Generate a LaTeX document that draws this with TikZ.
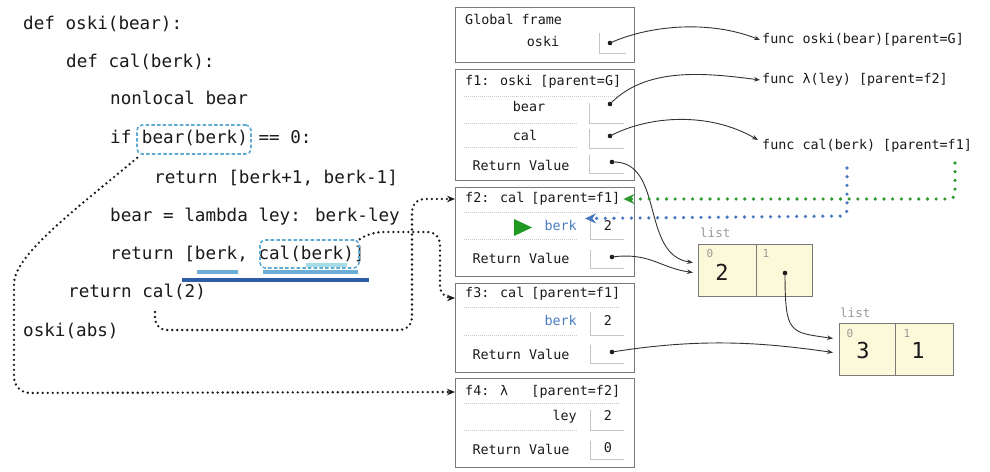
\documentclass[tikz,border=0pt]{standalone}
\usepackage{fontspec}
\newfontfamily\dvmono{DejaVu Sans Mono}
\usetikzlibrary{arrows.meta,calc}
\newcommand{\codefont}{\dvmono\fontsize{17.6pt}{20pt}\selectfont}
\newcommand{\frfont}{\dvmono\fontsize{13.4pt}{16pt}\selectfont}
\newcommand{\bigvfont}{\dvmono\fontsize{22pt}{24pt}\selectfont}
\newcommand{\idxfont}{\dvmono\fontsize{11pt}{13pt}\selectfont}
\newcommand{\lblfont}{\dvmono\fontsize{12.5pt}{15pt}\selectfont}
\definecolor{framegray}{HTML}{7A7A7A}
\definecolor{valgray}{HTML}{C4C4C4}
\definecolor{divgray}{HTML}{CCCCCC}
\definecolor{hlblue}{HTML}{5FAAD3}
\definecolor{ulblue}{HTML}{6AAED6}
\definecolor{ulcyan}{HTML}{A6DCE8}
\definecolor{darkblue}{HTML}{2E5DA6}
\definecolor{varblue}{HTML}{4A7CC0}
\definecolor{ptrgreen}{HTML}{2E9A2E}
\definecolor{ptrblue}{HTML}{4A78C0}
\definecolor{listfill}{HTML}{FCF8DA}
\definecolor{listgray}{HTML}{9A9A9A}
\definecolor{trigreen}{HTML}{1E9A22}
\definecolor{inkc}{HTML}{1A1A1A}
\begin{document}
\begin{tikzpicture}[x=1pt,y=-1pt,
  code/.style={font=\codefont, anchor=west, inner sep=0pt, text height=12.5pt, text depth=3.5pt, text=inkc},
  ftxt/.style={font=\frfont, inner sep=0pt, text height=9.8pt, text depth=2.8pt, text=inkc},
  vartxt/.style={ftxt, anchor=east, text=varblue},
  framebox/.style={draw=framegray, line width=1.4pt, anchor=north west, inner sep=0pt},
  divline/.style={draw=divgray, line width=0.7pt, dash pattern=on 1pt off 1pt},
  valline/.style={draw=valgray, line width=1pt},
  ptdot/.style={circle, fill=inkc, inner sep=0pt, minimum size=4.6pt},
  ptr/.style={line width=0.9pt, draw=black!80, -{Stealth[length=6pt,width=4.5pt]}},
  blkdot/.style={line width=2.6pt, draw=inkc, dash pattern=on 0pt off 5pt, line cap=round, -{Stealth[length=8pt,width=6.5pt]}},
  grdot/.style={line width=3.6pt, draw=ptrgreen, dash pattern=on 0pt off 8.7pt, line cap=round, -{Stealth[length=11pt,width=10pt]}},
  bldot/.style={line width=3.6pt, draw=ptrblue, dash pattern=on 0pt off 8.7pt, line cap=round, -{Stealth[length=11pt,width=10pt]}},
  hlbox/.style={draw=hlblue, line width=1.6pt, dash pattern=on 3.5pt off 2.2pt, rounded corners=5pt, inner sep=0pt},
  listcell/.style={draw=framegray, fill=listfill, line width=1pt, anchor=north west, inner sep=0pt, minimum height=52pt},
  idx/.style={font=\idxfont, text=listgray, inner sep=0pt},
  bigv/.style={font=\bigvfont, text=inkc, inner sep=0pt},
  lbl/.style={font=\lblfont, text=listgray, anchor=west, inner sep=0pt},
  underl/.style={line width=4pt}
]
\useasboundingbox (0,0) rectangle (990,471);

% ---------------- code ----------------
\node[code] (c1) at (23,25) {def oski(bear):};
\node[code] (c2) at (66,63) {def cal(berk):};
\node[code] (c3) at (110,100) {nonlocal bear};
\node[code] (c4) at (110,139) {if bear(berk) == 0:};
\node[code] (c5) at (154,179) {return [berk+1, berk-1]};
\node[code] (c6) at (110,217) {bear = lambda ley: berk-ley};
\node[code] (c7) at (110,255) {return [berk, cal(berk)]};
\node[code] (c8) at (68,293) {return cal(2)};
\node[code] (c9) at (23,332) {oski(abs)};

% highlights
\node[hlbox, minimum width=114pt, minimum height=29pt] (hl1) at (194,139.5) {};
\node[hlbox, minimum width=99pt, minimum height=28pt] (hl2) at (309.5,254) {};
\draw[underl, draw=ulcyan] (306,265) -- (347,265);
\draw[underl, draw=ulblue] (197,272) -- (238,272);
\draw[underl, draw=ulblue] (263,272) -- (358,272);
\draw[underl, draw=darkblue] (182,279.5) -- (369,279.5);

% ---------------- frames ----------------
\node[framebox, minimum width=179pt, minimum height=55pt] (gf) at (455,7) {};
\node[framebox, minimum width=179pt, minimum height=111pt] (f1) at (455,69) {};
\node[framebox, minimum width=179pt, minimum height=89pt] (f2) at (455,187) {};
\node[framebox, minimum width=179pt, minimum height=89pt] (f3) at (455,283) {};
\node[framebox, minimum width=179pt, minimum height=89pt] (f4) at (455,378) {};

% global frame
\node[ftxt, anchor=west] (gft) at (465,21) {Global frame};
\node[ftxt] (gfoski) at (543,43) {oski};
\draw[valline] (599,33) |- (626,53);
\node[ptdot] (dg) at (610,43) {};

% f1
\node[ftxt, anchor=west] (f1t) at (465,82) {f1: oski [parent=G]};
\draw[divline] (464,96) -- (620,96);
\node[ftxt] (f1bear) at (529,108) {bear};
\draw[valline] (589,103) |- (624,123);
\node[ptdot] (d1b) at (610,104) {};
\draw[divline] (464,123) -- (578,123);
\node[ftxt] (f1cal) at (525,137) {cal};
\draw[valline] (589,129) |- (624,148);
\node[ptdot] (d1c) at (610,136) {};
\draw[divline] (464,147) -- (578,147);
\node[ftxt] (f1rv) at (521,167) {Return Value};
\draw[valline] (589,155) |- (624,173);
\node[ptdot] (d1r) at (612,162) {};

% f2
\node[ftxt, anchor=west] (f2t) at (465,199) {\makebox[155pt]{f2: cal\hfill[parent=f1]}};
\draw[divline] (464,212) -- (620,212);
\fill[trigreen] (514,219) -- (514,236) -- (532,227.5) -- cycle;
\node[vartxt] (f2berk) at (577,227) {berk};
\draw[valline] (590,217) |- (624,239);
\node[ftxt] (f2bv) at (608,227) {2};
\draw[divline] (464,239) -- (578,239);
\node[ftxt] (f2rv) at (521,260) {Return Value};
\draw[valline] (590,250) |- (624,268);
\node[ptdot] (d2r) at (612,257) {};

% f3
\node[ftxt, anchor=west] (f3t) at (465,294) {\makebox[155pt]{f3: cal\hfill[parent=f1]}};
\draw[divline] (464,307) -- (620,307);
\node[vartxt] (f3berk) at (577,322) {berk};
\draw[valline] (590,312) |- (624,335);
\node[ftxt] (f3bv) at (608,322) {2};
\draw[divline] (464,335) -- (578,335);
\node[ftxt] (f3rv) at (521,356) {Return Value};
\draw[valline] (590,345) |- (624,363);
\node[ptdot] (d3r) at (612,352) {};

% f4
\node[ftxt, anchor=west] (f4t) at (465,392) {\makebox[155pt]{f4: λ\hfill[parent=f2]}};
\draw[divline] (464,403) -- (620,403);
\node[ftxt, anchor=east] (f4ley) at (577,417) {ley};
\draw[valline] (590,410) |- (624,430);
\node[ftxt] (f4lv) at (608,417) {2};
\draw[divline] (464,430) -- (578,430);
\node[ftxt] (f4rv) at (521,451) {Return Value};
\draw[valline] (590,441) |- (624,459);
\node[ftxt] (f4rvv) at (608,449) {0};

% ---------------- function objects ----------------
\node[ftxt, anchor=west] (fo) at (762,40) {func oski(bear)[parent=G]};
\node[ftxt, anchor=west] (fl) at (762,80) {func λ(ley) [parent=f2]};
\node[ftxt, anchor=west] (fc) at (762,146) {func cal(berk) [parent=f1]};

% ---------------- lists ----------------
\node[lbl] (l1lbl) at (700,233) {list};
\node[listcell, minimum width=58pt] (l1a) at (698,244) {};
\node[listcell, minimum width=56pt] (l1b) at (756,244) {};
\node[idx] (l1i0) at (710,253) {0};
\node[idx] (l1i1) at (766,253) {1};
\node[bigv] (l1v0) at (722,272) {2};
\node[ptdot] (dl1) at (785,273) {};

\node[lbl] (l2lbl) at (840,313) {list};
\node[listcell, minimum width=56pt] (l2a) at (839,323) {};
\node[listcell, minimum width=58pt] (l2b) at (895,323) {};
\node[idx] (l2i0) at (850,333) {0};
\node[idx] (l2i1) at (907,333) {1};
\node[bigv] (l2v0) at (863,350) {3};
\node[bigv] (l2v1) at (918,350) {1};

% ---------------- pointers ----------------
\draw[ptr] (dg.center) .. controls (650,25) and (710,20) .. ($(fo.west)+(-2,0)$);
\draw[ptr] (d1b.center) .. controls (645,68) and (700,72) .. ($(fl.west)+(-2,0)$);
\draw[ptr] (d1c.center) .. controls (650,115) and (710,112) .. ($(fc.west)+(-4,-6)$);
\draw[ptr] (d1r.center) .. controls (665,160) and (640,255) .. ($(l1a.west)+(-5,-8)$);
\draw[ptr] (d2r.center) .. controls (650,252) and (660,268) .. ($(l1a.west)+(-5,2)$);
\draw[ptr] (dl1.center) .. controls (785,335) and (790,332) .. ($(l2a.west)+(-6,-11)$);
\draw[ptr] (d3r.center) .. controls (700,338) and (760,342) .. ($(l2a.west)+(-6,3)$);

% coloured dotted pointers
\coordinate (gstart) at (955,163);
\coordinate (bstart) at (847,168);
\draw[grdot, rounded corners=6pt] (gstart) -- (955,199) -- ($(f2t.east)+(3,0)$);
\draw[bldot, rounded corners=6pt] (bstart) -- (847,216) -- ($(f2berk.north east)+(8,-2)$);

% black dotted call arrows
\coordinate (c2s) at (155,312);
\draw[blkdot, rounded corners=16pt] ($(hl1.south west)+(1,3)$) .. controls (75,210) and (14,255) .. (14,300) -- (14,393) -- (f4.west |- f4t);
\draw[blkdot, rounded corners=12pt] (c2s) -- (155,330) -- (412,330) -- (412,199) -- (f2.west |- f2t);
\draw[blkdot, rounded corners=12pt] (hl2.north east) .. controls (368,233) and (380,232) .. (395,232) -- (440,232) -- (440,298) -- ($(f3.west |- f3t)+(0,4)$);
\end{tikzpicture}
\end{document}
